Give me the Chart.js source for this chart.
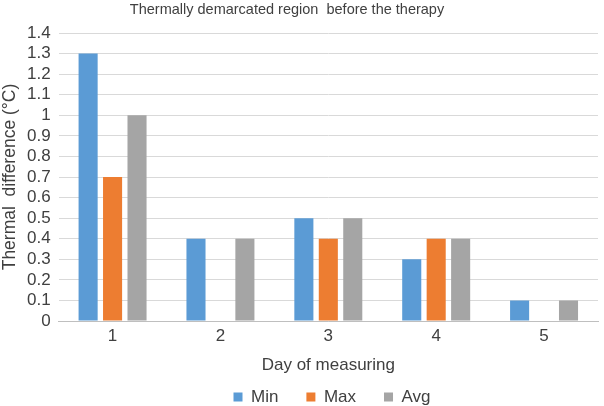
<!DOCTYPE html>
<html>
<head>
<meta charset="utf-8">
<script src="https://cdn.jsdelivr.net/npm/chart.js@4"></script>
<style>
html,body{margin:0;padding:0;background:#fff;}
#wrap{width:604px;height:406px;position:relative;}
</style>
</head>
<body>
<div id="wrap"><canvas id="c" width="604" height="406"></canvas></div>
<script>
const categories = ["1", "2", "3", "4", "5"];
const minValues = [1.3, 0.4, 0.5, 0.3, 0.1];
const maxValues = [0.7, 0, 0.4, 0.4, 0];
const avgValues = [1.0, 0.4, 0.5, 0.4, 0.1];
const seriesNames = ["Min", "Max", "Avg"];
const chartTitle = "Thermally demarcated region  before the therapy";
const xTitle = "Day of measuring";
const yTitle = "Thermal  difference (°C)";

const FONT = "'Liberation Sans', Arial, sans-serif";
Chart.defaults.font.family = FONT;
Chart.defaults.color = "#404040";

const shiftBlocks = {
  id: "shiftBlocks",
  afterLayout(chart) {
    if (chart.titleBlock) { chart.titleBlock.right -= 24; }
    if (chart.legend) { chart.legend.left += 33; chart.legend.right += 33; }
  }
};

new Chart(document.getElementById("c"), {
  type: "bar",
  data: {
    labels: categories,
    datasets: [
      {label: seriesNames[0], data: minValues, backgroundColor: "#5B9BD5"},
      {label: seriesNames[1], data: maxValues, backgroundColor: "#ED7D31"},
      {label: seriesNames[2], data: avgValues, backgroundColor: "#A5A5A5"}
    ]
  },
  plugins: [shiftBlocks],
  options: {
    responsive: false,
    animation: false,
    devicePixelRatio: 1,
    layout: {padding: {left: 0, right: 6, top: 0, bottom: 0}},
    datasets: {bar: {categoryPercentage: 0.68, barPercentage: 0.78}},
    plugins: {
      title: {display: true, text: chartTitle, color: "#404040",
        font: {size: 14.5, weight: "normal"}, padding: {top: 1, bottom: 14.6}},
      legend: {position: "bottom", maxHeight: 45.5,
        labels: {boxWidth: 9, boxHeight: 9, font: {size: 17}, color: "#404040", padding: 28}},
      tooltip: {enabled: false}
    },
    scales: {
      x: {
        grid: {display: false, drawTicks: false},
        border: {color: "#BFBFBF"},
        ticks: {font: {size: 17}, color: "#404040", padding: 5},
        title: {display: true, text: xTitle, font: {size: 17}, color: "#404040", padding: {top: 3.4, bottom: -14.7}}
      },
      y: {
        min: 0, max: 1.4,
        grid: {color: "#D9D9D9", drawTicks: false},
        border: {display: false},
        ticks: {stepSize: 0.1, autoSkip: false, font: {size: 17}, color: "#404040", padding: 8,
          callback: v => Math.round(v * 10) / 10 + ""},
        title: {display: true, text: yTitle, font: {size: 17.5}, color: "#404040", padding: {top: 0, bottom: -2}}
      }
    }
  }
});
</script>
</body>
</html>
